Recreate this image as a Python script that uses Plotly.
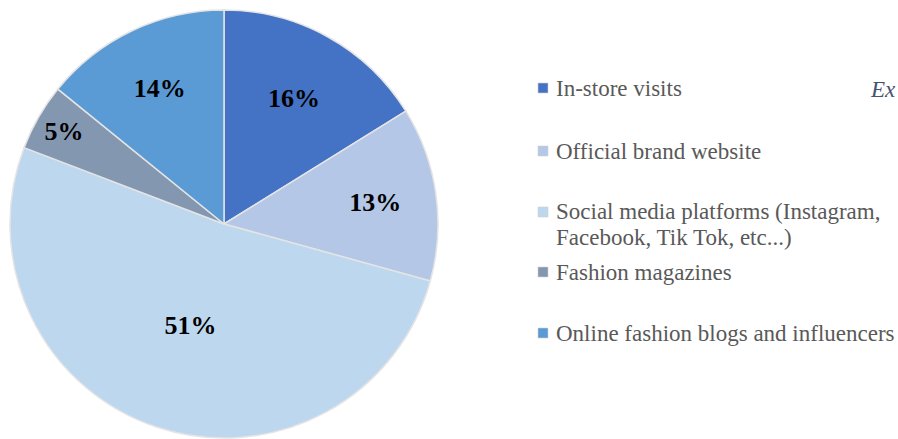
import plotly.graph_objects as go

# Share of respondents by main source of fashion information (%)
sources = [
    "In-store visits",
    "Official brand website",
    "Social media platforms (Instagram,<br>Facebook, Tik Tok, etc...)",
    "Fashion magazines",
    "Online fashion blogs and influencers",
]
shares = [16, 13, 51, 5, 14]
colors = ["#4472C4", "#B4C7E7", "#BDD7EE", "#8497B0", "#5B9BD5"]

W, H = 898, 439

fig = go.Figure()
fig.add_trace(go.Pie(
    labels=[s.replace("<br>", " ") for s in sources],
    values=shares,
    sort=False,
    direction="clockwise",
    rotation=0,
    marker=dict(colors=colors, line=dict(color="#E4E4E4", width=1.5)),
    texttemplate="<b>%{value}%</b>",
    textposition="inside",
    insidetextorientation="horizontal",
    textfont=dict(family="Liberation Serif", size=26, color="#000000"),
    hoverinfo="label+value",
    showlegend=False,
    domain=dict(x=[10 / W, 438 / W], y=[1 - 438 / H, 1 - 10 / H]),
))

# Hand-built legend: coloured squares with serif labels
legend_x = 554
legend_rows = [88, 151, 212, 272, 333]
line_gap = 25
shapes = []
annotations = []
for name, color, yc in zip(sources, colors, legend_rows):
    shapes.append(dict(
        type="rect", xref="paper", yref="paper",
        x0=(legend_x - 16) / W, x1=(legend_x - 6) / W,
        y0=1 - (yc + 5) / H, y1=1 - (yc - 5) / H,
        fillcolor=color, line=dict(color="#D0D0D0", width=0.6),
    ))
    for i, line in enumerate(name.split("<br>")):
        annotations.append(dict(
            text=line, xref="paper", yref="paper",
            x=legend_x / W, y=1 - (yc + i * line_gap) / H,
            xanchor="left", yanchor="middle", showarrow=False,
            font=dict(family="Liberation Serif", size=23, color="#595959"),
        ))

# Side heading at the right edge
annotations.append(dict(
    text="<i>Ex</i>", xref="paper", yref="paper",
    x=1.0, y=1 - 89 / H, xanchor="right", yanchor="middle",
    showarrow=False,
    font=dict(family="Liberation Serif", size=23, color="#44546A"),
))

fig.update_layout(
    width=W, height=H,
    margin=dict(l=0, r=0, t=0, b=0),
    paper_bgcolor="#FFFFFF",
    plot_bgcolor="#FFFFFF",
    shapes=shapes,
    annotations=annotations,
)

fig.write_html("out.html")
